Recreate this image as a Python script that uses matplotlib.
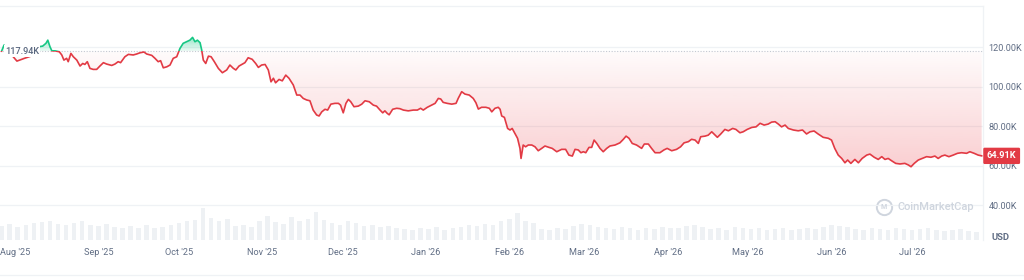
import numpy as np
import pandas as pd
import matplotlib
matplotlib.use("Agg")
import matplotlib.pyplot as plt
import matplotlib.dates as mdates
import matplotlib.transforms as mtransforms
from matplotlib.path import Path
from matplotlib.patches import Rectangle
from matplotlib.lines import Line2D
from matplotlib.ticker import FuncFormatter

plt.rcParams["font.family"] = ["Roboto", "DejaVu Sans"]

# ---------------- data ----------------
start_date = "2025-07-27"
day_offset = [
    0.0, 0.9, 2.8, 5.7, 8.7, 10.9, 12.8, 14.0, 15.3, 16.5, 17.2, 18.0, 18.7, 19.9, 21.5, 22.4,
    23.2, 24.2, 24.8, 25.8, 26.7, 28.0, 29.2, 30.2, 31.0, 31.9, 32.9, 34.1, 35.4, 36.6, 37.9,
    39.1, 41.0, 42.2, 43.4, 44.3, 45.9, 47.2, 49.0, 50.3, 51.5, 53.0, 54.0, 55.9, 57.1, 58.3,
    59.2, 60.2, 61.5, 62.7, 63.9, 65.2, 66.4, 67.6, 68.9, 70.1, 71.1, 72.0, 72.9, 73.9, 74.5,
    75.1, 76.0, 77.0, 78.0, 79.2, 80.7, 82.2, 83.8, 85.0, 86.3, 87.2, 88.4, 90.6, 91.8, 93.3,
    94.6, 95.6, 96.8, 98.1, 99.3, 100.3, 101.2, 102.0, 103.3, 104.5, 105.8, 107.0, 108.6,
    109.9, 111.1, 112.3, 113.6, 114.8, 116.0, 117.3, 118.2, 119.2, 120.4, 121.4, 122.6, 124.1,
    125.4, 126.2, 127.2, 128.2, 129.1, 130.0, 131.2, 132.8, 134.1, 135.3, 136.9, 138.4, 139.6,
    140.9, 141.9, 142.7, 143.6, 144.3, 145.6, 147.1, 148.3, 149.6, 151.4, 153.3, 154.8, 156.0,
    157.0, 158.5, 160.1, 161.4, 162.6, 163.5, 164.4, 165.9, 167.6, 169.2, 170.0, 171.3, 172.5,
    174.1, 175.6, 176.6, 177.5, 178.7, 180.3, 181.6, 182.5, 183.7, 184.9, 185.6, 186.2, 187.2,
    188.4, 189.3, 190.1, 191.1, 192.1, 193.0, 193.4, 194.2, 195.1, 196.1, 197.4, 198.6, 199.8,
    201.1, 202.3, 203.8, 205.0, 206.7, 208.5, 210.0, 211.2, 212.5, 213.5, 214.7, 215.7, 216.6,
    217.5, 218.7, 219.7, 220.6, 221.6, 222.8, 224.0, 225.3, 226.5, 228.4, 230.2, 231.5, 232.5,
    233.6, 234.8, 236.4, 238.3, 239.3, 240.8, 242.0, 243.3, 245.1, 246.6, 247.8, 249.5, 251.3,
    252.8, 254.1, 255.7, 256.9, 258.2, 259.4, 260.3, 261.9, 263.1, 264.4, 265.3, 266.5, 267.7,
    269.3, 270.6, 272.2, 273.4, 274.9, 276.1, 277.6, 279.3, 280.9, 282.4, 283.9, 285.4, 286.7,
    288.0, 289.2, 290.4, 291.7, 292.9, 294.8, 296.6, 298.2, 299.7, 301.0, 302.5, 304.0, 305.9,
    307.8, 309.0, 310.2, 311.5, 312.8, 314.0, 315.0, 316.2, 317.7, 319.0, 320.4, 322.1, 323.3,
    324.9, 326.4, 327.7, 328.9, 330.1, 331.4, 332.9, 334.5, 336.3, 337.6, 338.6, 339.8, 341.3,
    342.8, 344.4, 346.0, 347.5, 348.7, 350.0, 351.2, 352.7, 354.3, 355.9, 357.4, 359.3, 360.5,
    362.1, 363.6, 364.9,
]
price_k = [
    117.94, 121.0, 117.5, 112.9, 114.4, 115.4, 116.8, 120.2, 120.5, 121.9, 123.5, 120.2, 118.1,
    118.1, 117.6, 116.0, 113.4, 114.3, 112.6, 116.8, 115.1, 113.4, 110.4, 111.7, 111.2, 112.6,
    109.2, 108.7, 108.7, 110.4, 112.1, 111.4, 110.7, 111.4, 112.6, 112.1, 115.1, 116.3, 116.0,
    116.5, 117.1, 117.5, 116.5, 115.8, 114.3, 112.6, 113.1, 109.5, 110.0, 110.9, 114.3, 115.1,
    119.3, 121.9, 122.7, 123.5, 124.9, 122.7, 123.5, 122.2, 118.5, 113.4, 111.7, 115.4, 115.1,
    112.6, 109.2, 107.0, 108.4, 110.9, 109.2, 108.4, 110.4, 112.1, 114.6, 113.8, 111.7, 109.7,
    110.9, 111.2, 108.4, 102.4, 104.2, 101.9, 103.6, 102.9, 105.8, 104.2, 100.8, 95.7, 95.7,
    94.0, 93.2, 92.8, 88.1, 85.6, 85.1, 87.2, 88.5, 88.1, 91.1, 91.5, 91.5, 90.6, 86.7, 91.5,
    93.5, 92.3, 89.8, 90.1, 91.1, 92.8, 92.3, 90.6, 90.1, 88.1, 86.7, 87.7, 86.4, 85.7, 88.5,
    89.0, 88.8, 88.1, 87.7, 88.1, 88.1, 89.0, 88.1, 89.5, 90.6, 91.5, 94.0, 93.7, 92.0, 91.5,
    91.1, 91.5, 94.0, 97.4, 96.2, 95.7, 94.0, 91.8, 88.6, 89.5, 89.5, 89.0, 87.2, 89.0, 89.5,
    88.5, 85.1, 84.4, 78.8, 78.0, 78.8, 76.3, 73.8, 68.7, 63.6, 70.4, 69.5, 70.4, 70.4, 69.5,
    67.5, 68.7, 69.9, 69.2, 68.7, 67.0, 68.2, 68.2, 65.3, 64.8, 68.2, 67.9, 66.5, 67.0, 66.5,
    69.2, 69.2, 72.9, 71.2, 68.7, 67.0, 68.7, 69.9, 70.4, 71.5, 73.3, 74.9, 73.8, 71.2, 70.4,
    68.7, 70.9, 70.9, 68.7, 66.5, 66.5, 67.9, 68.7, 67.5, 68.2, 69.5, 71.5, 72.1, 73.3, 72.9,
    71.2, 74.6, 74.9, 75.4, 77.1, 75.9, 74.3, 75.9, 78.3, 77.6, 78.8, 78.3, 76.6, 77.1, 78.3,
    79.3, 79.6, 81.4, 80.5, 81.0, 82.0, 82.2, 81.0, 79.6, 80.5, 78.8, 78.0, 77.6, 78.0, 76.0,
    77.1, 77.5, 76.0, 74.3, 73.8, 72.9, 68.7, 65.3, 63.6, 61.4, 62.8, 61.1, 63.1, 61.4, 63.6,
    65.3, 65.8, 64.2, 63.1, 64.5, 63.1, 63.6, 62.4, 61.1, 60.8, 61.1, 60.3, 59.4, 61.1, 62.8,
    63.6, 64.5, 64.2, 64.8, 63.6, 64.8, 65.3, 64.5, 65.3, 66.2, 66.5, 66.2, 67.0, 66.2, 65.3,
    64.91,
]
volume_day = list(range(0, 366, 3))
volume_b = [
    56, 64, 52, 60, 68, 72, 76, 64, 60, 68, 76, 60, 56, 64, 52, 48, 56, 48, 60, 48, 52, 60,
    68, 76, 80, 128, 88, 76, 84, 56, 60, 52, 76, 96, 72, 64, 92, 76, 84, 112, 80, 68, 60, 76,
    68, 56, 60, 52, 56, 48, 44, 40, 48, 44, 52, 40, 48, 52, 60, 56, 64, 60, 76, 84, 108, 76,
    68, 44, 40, 48, 44, 56, 64, 60, 52, 48, 44, 52, 48, 40, 48, 44, 52, 48, 48, 56, 60, 52,
    44, 48, 40, 52, 48, 44, 48, 40, 44, 48, 40, 44, 48, 44, 52, 60, 56, 52, 44, 40, 48, 44,
    40, 48, 44, 40, 44, 48, 40, 36, 40, 44, 36, 32,
]
y_ticks_k = [40, 60, 80, 100, 120]
base_k = 117.94
last_k = 64.91

# ---------------- style ----------------
RED = "#e23a44"
GREEN = "#16c784"
GRID = "#eff2f5"
LABEL = "#616e85"
W, H = 1024, 280

fig = plt.figure(figsize=(W / 100, H / 100), dpi=100)
ax = fig.add_axes([0, 1 - 240 / H, 983 / W, 234 / H])
axv = ax.twinx()
ax.set_zorder(2)
ax.patch.set_visible(False)
ax.set_axisbelow(True)
axv.set_zorder(1)

t0 = pd.Timestamp(start_date)
x = mdates.date2num(t0 + pd.to_timedelta(day_offset, unit="D"))
y = np.asarray(price_k)
xv = mdates.date2num(t0 + pd.to_timedelta(volume_day, unit="D"))
xmin = mdates.date2num(t0 - pd.Timedelta(days=0.6))
xmax = mdates.date2num(t0 + pd.Timedelta(days=365.4))
ymin, ymax = 22.3, 140.8

# volume bars
axv.bar(xv, volume_b, width=1.7, color="#eef1f4", linewidth=0)
axv.set_ylim(0, 936)
axv.set_yticks([])
for s in axv.spines.values():
    s.set_visible(False)

# gradient fills
red_fill = ax.fill_between(x, y, base_k, where=y <= base_k, interpolate=True, color="none")
green_fill = ax.fill_between(x, y, base_k, where=y >= base_k, interpolate=True, color="none")


def gradient(coll, ylo, yhi, rgb, a_lo, a_hi):
    paths = coll.get_paths()
    coll.set_visible(False)
    if not paths:
        return
    n = 256
    img = np.zeros((n, 1, 4))
    img[:, 0, :3] = matplotlib.colors.to_rgb(rgb)
    img[:, 0, 3] = np.linspace(a_lo, a_hi, n)
    im = ax.imshow(img, extent=[xmin, xmax, ylo, yhi], origin="lower",
                   aspect="auto", zorder=2, interpolation="bilinear")
    im.set_clip_path(Path.make_compound_path(*paths), transform=ax.transData)


gradient(red_fill, 58, base_k, "#ea3943", 0.25, 0.02)
gradient(green_fill, base_k, 126, GREEN, 0.08, 0.5)

# price line, coloured above/below the start price
red_line, = ax.plot(x, y, color=RED, lw=1.2, zorder=4, solid_joinstyle="round")
green_line, = ax.plot(x, y, color=GREEN, lw=1.2, zorder=5, solid_joinstyle="round")
below = Rectangle((xmin, ymin), xmax - xmin, base_k - ymin, transform=ax.transData)
above = Rectangle((xmin, base_k), xmax - xmin, ymax - base_k, transform=ax.transData)
red_line.set_clip_path(below)
green_line.set_clip_path(above)

ax.axhline(base_k, color="#c3c9d1", lw=0.8, ls=(0, (1, 1.5)), zorder=3)

ax.set_xlim(xmin, xmax)
ax.set_ylim(ymin, ymax)

# axes styling
ax.set_yticks(y_ticks_k)
ax.yaxis.tick_right()
ax.yaxis.set_major_formatter(FuncFormatter(lambda v, p: f"{v:.2f}K"))
ax.grid(axis="y", color=GRID, lw=0.9)
ax.xaxis.set_major_locator(mdates.MonthLocator())
ax.xaxis.set_major_formatter(mdates.DateFormatter("%b '%y"))
ax.tick_params(axis="both", length=0, labelsize=6.6, labelcolor=LABEL)
ax.tick_params(axis="x", pad=6)
ax.tick_params(axis="y", pad=4)
for name, s in ax.spines.items():
    s.set_visible(name in ("top", "right"))
    s.set_color(GRID)
    s.set_linewidth(0.9)

# start price label
blend = mtransforms.blended_transform_factory(ax.transAxes, ax.transData)
ax.text(5 / 983, base_k, "117.94K", transform=blend, ha="left", va="center",
        fontsize=6.6, color="#58667e", fontweight="medium", zorder=8,
        bbox=dict(boxstyle="square,pad=0.15", fc="white", ec="none"))

# last price tag
ax.text(1.004, last_k, "64.91K", transform=blend, ha="left", va="center",
        fontsize=6.6, color="white", fontweight="bold", zorder=10, clip_on=False,
        bbox=dict(boxstyle="round,pad=0.4,rounding_size=0.15", fc=RED, ec="none"))

# currency label
fig.text(992 / W, 1 - 237 / H, "USD", fontsize=6.8, color=LABEL, fontweight="bold",
         ha="left", va="center")

# watermark
wm = "#cfd5de"
fig.add_artist(Line2D([884 / W], [1 - 207 / H], marker="o", ms=11, mfc="none",
                      mec=wm, mew=1.4, transform=fig.transFigure))
fig.text(884 / W, 1 - 207 / H, "M", fontsize=5, color=wm, fontweight="bold",
         ha="center", va="center")
fig.text(897 / W, 1 - 207 / H, "CoinMarketCap", fontsize=8, color=wm,
         fontweight="medium", ha="left", va="center")

# bottom separator
fig.add_artist(Line2D([0, 1], [1 - 275 / H, 1 - 275 / H], color=GRID, lw=0.9,
                      transform=fig.transFigure))

fig.savefig("out.png", dpi=100)
